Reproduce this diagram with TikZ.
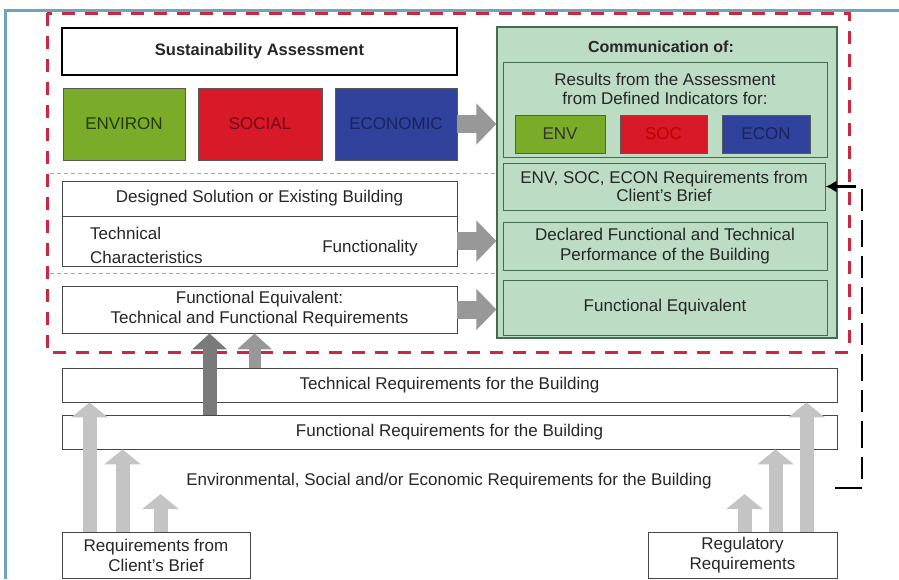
\documentclass[tikz,border=0pt]{standalone}
\usepackage{fontspec}
\setmainfont{Liberation Sans}
\usepackage{tikz}
\usetikzlibrary{arrows.meta,calc}
\usepackage{xcolor}
\definecolor{framecyan}{RGB}{110,165,185}
\definecolor{dashred}{RGB}{200,40,65}
\definecolor{envgreen}{RGB}{122,172,42}
\definecolor{socred}{RGB}{215,25,40}
\definecolor{econblue}{RGB}{48,66,155}
\definecolor{envtext}{RGB}{35,55,10}
\definecolor{soctext}{RGB}{115,8,20}
\definecolor{econtext}{RGB}{25,35,95}
\definecolor{commfill}{RGB}{188,220,195}
\definecolor{commedge}{RGB}{68,108,78}
\definecolor{boxgrey}{RGB}{70,70,70}
\definecolor{arrowgrey}{RGB}{152,152,152}
\definecolor{liftgrey}{RGB}{196,196,196}
\definecolor{pushgrey}{RGB}{122,122,122}

\begin{document}
\begin{tikzpicture}[x=1pt,y=-1pt,
    every node/.style={font=\fontsize{17}{19}\selectfont,text=black!85,inner sep=0pt},
    plainbox/.style={draw=boxgrey,line width=0.9pt,fill=white},
    pillar/.style={draw=black!65,line width=0.9pt},
    greenbox/.style={draw=commedge,line width=1pt,fill=commfill},
    rarrow/.style={arrowgrey,line width=18pt,-{Triangle[length=20pt,width=40pt]}},
    liftarrow/.style={liftgrey,line width=14pt,-{Triangle[length=15pt,width=36pt]}},
    pusharrow/.style={pushgrey,line width=14pt,-{Triangle[length=16pt,width=34pt]}},
    sepline/.style={black!35,line width=0.6pt,dash pattern=on 4pt off 3pt},
    fbline/.style={black,line width=2.6pt,dash pattern=on 27pt off 9pt on 22pt off 9pt,
      -{Latex[length=11pt,width=12pt]}}]
        \useasboundingbox (0,0) rectangle (899,579);
        % Frame
        \draw[framecyan,line width=3pt] (5,579) -- (5,10) -- (899,10);
        \draw[dashred,line width=3pt,dash pattern=on 13pt off 10pt]
          (47,13) rectangle (849,352);
        % Assessment
        \node[draw=black,line width=1.8pt,fill=white,minimum width=395pt,minimum height=47pt,
          font=\bfseries\fontsize{16.5}{19}\selectfont] (sa) at (259.5,51.5)
          {Sustainability Assessment};
        \node[pillar,fill=envgreen,text=envtext,minimum width=122pt,minimum height=72pt]
          (environ) at (124,124) {ENVIRON};
        \node[pillar,fill=socred,text=soctext,minimum width=124pt,minimum height=72pt]
          (social) at (260,124) {SOCIAL};
        \node[pillar,fill=econblue,text=econtext,minimum width=122pt,minimum height=72pt]
          (economic) at (396,124) {ECONOMIC};
        \draw[sepline] (50,173) -- (495,173);
        \draw[sepline] (50,273) -- (495,273);
        % Building
        \node[plainbox,minimum width=395pt,minimum height=35pt] (design) at (259.5,198.5)
          {Designed Solution or Existing Building};
        \node[plainbox,minimum width=395pt,minimum height=50pt] (techfun) at (259.5,241) {};
        \node[align=left,anchor=west,font=\fontsize{17}{24}\selectfont] (techchar) at (90,245)
          {Technical\\Characteristics};
        \node (functy) at (370,248) {Functionality};
        \node[plainbox,minimum width=395pt,minimum height=47pt,align=center,
          font=\fontsize{17}{20}\selectfont] (funceq) at (259.5,309.5)
          {Functional Equivalent:\\Technical and Functional Requirements};
        % Communication
        \node[greenbox,line width=1.2pt,minimum width=340pt,minimum height=311pt]
          (comm) at (667,182.5) {};
        \node[font=\bfseries\fontsize{16}{19}\selectfont] (commtitle) at (661,47)
          {Communication of:};
        \node[greenbox,minimum width=324pt,minimum height=95pt] (results) at (665,109.5) {};
        \node[align=center,font=\fontsize{17}{18.5}\selectfont] (restext) at (665,89)
          {Results from the Assessment\\from Defined Indicators for:};
        \node[pillar,fill=envgreen,text=black!80,minimum width=90pt,minimum height=38pt]
          (env) at (560,134) {ENV};
        \node[pillar,fill=socred,text=red!75!black,minimum width=87pt,minimum height=38pt]
          (soc) at (663.5,134) {SOC};
        \node[pillar,fill=econblue,text=econtext,minimum width=88pt,minimum height=38pt]
          (econ) at (766,134) {ECON};
        \node[greenbox,minimum width=322pt,minimum height=47pt,align=center,
          font=\fontsize{17}{18}\selectfont] (req) at (664,186.5)
          {ENV, SOC, ECON Requirements from\\Client's Brief};
        \node[greenbox,minimum width=324pt,minimum height=48pt,align=center,
          font=\fontsize{17}{20}\selectfont] (declared) at (665,246)
          {Declared Functional and Technical\\Performance of the Building};
        \node[greenbox,minimum width=324pt,minimum height=55pt] (feqcomm) at (665,307.5)
          {Functional Equivalent};
        % Requirements
        \node[plainbox,minimum width=775pt,minimum height=34pt] (tech) at (449.5,385)
          {Technical Requirements for the Building};
        \node[plainbox,minimum width=775pt,minimum height=34pt] (func) at (449.5,432)
          {Functional Requirements for the Building};
        \node[inner sep=5pt] (envreq) at (449,481)
          {Environmental, Social and/or Economic Requirements for the Building};
        \node[plainbox,minimum width=188pt,minimum height=46pt,align=center,
          font=\fontsize{17}{20}\selectfont] (client) at (156,555)
          {Requirements from\\Client's Brief};
        \node[plainbox,minimum width=189pt,minimum height=46pt,align=center,
          font=\fontsize{17}{20}\selectfont] (regul) at (742.5,555)
          {Regulatory\\Requirements};
        % Arrows to communication
        \draw[rarrow] (economic.east) -- (economic.east -| comm.west);
        \draw[rarrow] (techfun.east) -- (techfun.east -| comm.west);
        \draw[rarrow] (funceq.east) -- (funceq.east -| comm.west);
        % Arrows from the briefs
        \coordinate (c1) at ([xshift=28pt]client.north west);
        \coordinate (c2) at ([xshift=61pt]client.north west);
        \coordinate (c3) at ([xshift=99pt]client.north west);
        \coordinate (r1) at ([xshift=97pt]regul.north west);
        \coordinate (r2) at ([xshift=128pt]regul.north west);
        \coordinate (r3) at ([xshift=159pt]regul.north west);
        \draw[liftarrow] (c1) -- (c1 |- tech.south);
        \draw[liftarrow] (c2) -- (c2 |- func.south);
        \draw[liftarrow] (c3) -- (c3 |- envreq.south);
        \draw[liftarrow] (r1) -- (r1 |- envreq.south);
        \draw[liftarrow] (r2) -- (r2 |- func.south);
        \draw[liftarrow] (r3) -- (r3 |- tech.south);
        % Arrows to functional equivalent
        \coordinate (d1) at ([xshift=148pt]func.north west);
        \coordinate (d2) at ([xshift=193pt]tech.north west);
        \draw[pusharrow] (d1) -- (d1 |- funceq.south);
        \draw[pusharrow,arrowgrey,line width=12pt] (d2) -- (d2 |- funceq.south);
        % Feedback to client's brief
        \coordinate (fb) at (835,488);
        \draw[fbline] (fb) -- ++(27,0) |- (req.east);
      \end{tikzpicture}
\end{document}
